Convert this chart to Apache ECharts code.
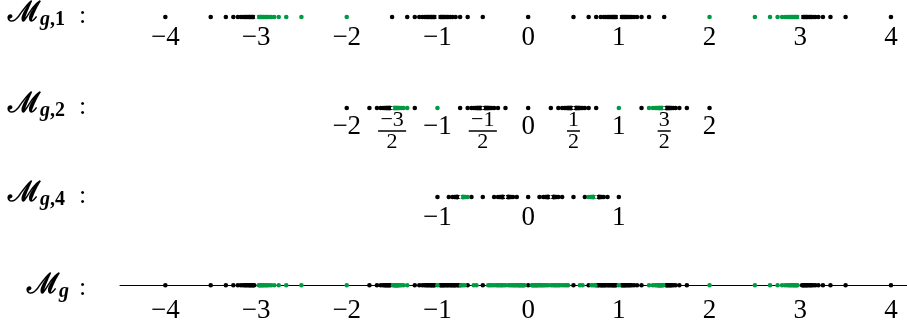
<!DOCTYPE html>
<html>
<head>
<meta charset="utf-8">
<script src="https://cdn.jsdelivr.net/npm/echarts@6/dist/echarts.min.js"></script>
<style>
  html, body { margin: 0; padding: 0; background: #fff; }
  #chart { width: 907px; height: 324px; }
</style>
</head>
<body>
<div id="chart"></div>
<script>
// M_{g,1}
const r1Black = [-4, -3.5, -3.333, -3.25, -3.2, -3.167, -3.143, -3.125, -3.111, -3.1, -3.083, -3.071, -3.063, -3.05, -3.04, -3.03,
  -1.5, -1.333, -1.25, -1.2, -1.167, -1.143, -1.125, -1.111, -1.1, -1.083, -1.071, -1.063, -1.05, -1.04, -1.03,
  -0.97, -0.96, -0.95, -0.938, -0.929, -0.917, -0.9, -0.889, -0.875, -0.857, -0.833, -0.8, -0.75, -0.667, -0.5,
  0,
  0.5, 0.667, 0.75, 0.8, 0.833, 0.857, 0.875, 0.889, 0.9, 0.917, 0.929, 0.938, 0.95, 0.96, 0.97,
  1.03, 1.04, 1.05, 1.063, 1.071, 1.083, 1.1, 1.111, 1.125, 1.143, 1.167, 1.2, 1.25, 1.333, 1.5,
  3.03, 3.04, 3.05, 3.063, 3.071, 3.083, 3.1, 3.111, 3.125, 3.143, 3.167, 3.2, 3.25, 3.333, 3.5, 4];
const r1Green = [-2.97, -2.96, -2.95, -2.938, -2.929, -2.917, -2.9, -2.889, -2.875, -2.857, -2.833, -2.8, -2.75, -2.667, -2.5, -2,
  2, 2.5, 2.667, 2.75, 2.8, 2.833, 2.857, 2.875, 2.889, 2.9, 2.917, 2.929, 2.938, 2.95, 2.96, 2.97];
const r1Open = [-3, -1, 1, 3];

// M_{g,2}
const r2Black = [-2, -1.75, -1.667, -1.625, -1.6, -1.583, -1.571, -1.563, -1.556, -1.55, -1.542, -1.536, -1.53, -1.525, -1.52,
  -1.25,
  -0.75, -0.667, -0.625, -0.6, -0.583, -0.571, -0.563, -0.556, -0.55, -0.542, -0.536, -0.53, -0.525, -0.52,
  -0.48, -0.475, -0.47, -0.464, -0.458, -0.45, -0.444, -0.438, -0.429, -0.417, -0.4, -0.375, -0.333, -0.25,
  0,
  0.25, 0.333, 0.375, 0.4, 0.417, 0.429, 0.438, 0.444, 0.45, 0.458, 0.464, 0.47, 0.475, 0.48,
  0.52, 0.525, 0.53, 0.536, 0.542, 0.55, 0.556, 0.563, 0.571, 0.583, 0.6, 0.625, 0.667, 0.75,
  1.25,
  1.52, 1.525, 1.53, 1.536, 1.542, 1.55, 1.556, 1.563, 1.571, 1.583, 1.6, 1.625, 1.667, 1.75, 2];
const r2Green = [-1.48, -1.475, -1.47, -1.464, -1.458, -1.45, -1.444, -1.438, -1.429, -1.417, -1.4, -1.375, -1.333, -1,
  1, 1.333, 1.375, 1.4, 1.417, 1.429, 1.438, 1.444, 1.45, 1.458, 1.464, 1.47, 1.475, 1.48];
const r2Open = [-1.5, -0.5, 0.5, 1.5];

// M_{g,4}
const r3Black = [-1, -0.875, -0.833, -0.813, -0.8, -0.792, -0.786, -0.781, -0.778, -0.775, -0.625, -0.5,
  -0.375, -0.333, -0.313, -0.3, -0.292, -0.286, -0.281, -0.278, -0.275,
  -0.225, -0.222, -0.219, -0.214, -0.208, -0.2, -0.188, -0.167, -0.125,
  0,
  0.125, 0.167, 0.188, 0.2, 0.208, 0.214, 0.219, 0.222, 0.225,
  0.275, 0.278, 0.281, 0.286, 0.292, 0.3, 0.313, 0.333, 0.375,
  0.5, 0.625, 0.775, 0.778, 0.781, 0.786, 0.792, 0.8, 0.813, 0.833, 0.875, 1];
const r3Green = [-0.725, -0.722, -0.719, -0.714, -0.708, -0.7, -0.688, -0.667,
  0.667, 0.688, 0.7, 0.708, 0.714, 0.719, 0.722, 0.725];
const r3Open = [-0.75, -0.25, 0.25, 0.75];

// M_g
const r4Black = [-4, -3.5, -3.333, -3.25, -3.2, -3.167, -3.143, -3.125, -3.111, -3.1, -3.083, -3.071, -3.063, -3.05, -3.04, -3.03, -3.02,
  -1.75, -1.667, -1.625, -1.6, -1.583, -1.571, -1.563, -1.55, -1.54, -1.53, -1.52,
  -1.25, -1.2, -1.167, -1.143, -1.125, -1.111, -1.1, -1.083, -1.071, -1.063, -1.05, -1.04, -1.03,
  -0.97, -0.96, -0.95, -0.938, -0.929, -0.917, -0.9, -0.889, -0.875, -0.857, -0.845, -0.833, -0.82, -0.81, -0.8, -0.78, -0.77, -0.75, -0.667, -0.5,
  0,
  0.5, 0.667, 0.75, 0.77, 0.78, 0.8, 0.81, 0.82, 0.833, 0.845, 0.857, 0.875, 0.889, 0.9, 0.917, 0.929, 0.938, 0.95, 0.96, 0.97,
  1.03, 1.04, 1.05, 1.063, 1.071, 1.083, 1.1, 1.111, 1.125, 1.143, 1.167, 1.2, 1.25,
  1.52, 1.53, 1.54, 1.55, 1.563, 1.571, 1.583, 1.6, 1.625, 1.667, 1.75,
  3.02, 3.03, 3.04, 3.05, 3.063, 3.071, 3.083, 3.1, 3.111, 3.125, 3.143, 3.167, 3.2, 3.25, 3.333, 3.5, 4];
const r4Green = [-2.97, -2.96, -2.95, -2.938, -2.929, -2.917, -2.9, -2.889, -2.875, -2.857, -2.833, -2.8, -2.75, -2.667, -2.5, -2,
  -1.49, -1.48, -1.47, -1.464, -1.458, -1.45, -1.444, -1.438, -1.429, -1.417, -1.4, -1.375, -1.333, -1,
  -0.74, -0.72, -0.7, -0.6, -0.57,
  -0.44, -0.42, -0.4, -0.375, -0.35, -0.333, -0.32, -0.3, -0.29, -0.27, -0.25, -0.22, -0.2, -0.18, -0.167, -0.15, -0.14, -0.125,
  -0.11, -0.1, -0.09, -0.08, -0.07, -0.06, -0.05, -0.04,
  0.04, 0.05, 0.06, 0.07, 0.08, 0.09, 0.1, 0.11, 0.125, 0.14, 0.15, 0.167, 0.18, 0.2, 0.22, 0.25,
  0.27, 0.29, 0.3, 0.32, 0.333, 0.35, 0.375, 0.4, 0.42, 0.44,
  0.57, 0.6, 0.7, 0.72, 0.74, 1,
  1.333, 1.375, 1.4, 1.417, 1.429, 1.438, 1.444, 1.45, 1.458, 1.464, 1.47, 1.48, 1.49,
  2, 2.5, 2.667, 2.75, 2.8, 2.833, 2.857, 2.875, 2.889, 2.9, 2.917, 2.929, 2.938, 2.95, 2.96, 2.97];

// tick labels
const ticksWide = [-4, -3, -2, -1, 0, 1, 2, 3, 4];
const ticksWideText = ['−4', '−3', '−2', '−1', '0', '1', '2', '3', '4'];
const ticksHalf = [-2, -1.5, -1, -0.5, 0, 0.5, 1, 1.5, 2];
const ticksHalfText = ['−2', '−3/2', '−1', '−1/2', '0', '1/2', '1', '3/2', '2'];
const ticksUnit = [-1, 0, 1];
const ticksUnitText = ['−1', '0', '1'];

const rowNames = [['g', ',1'], ['g', ',2'], ['g', ',4'], ['g', '']];

const GREEN = '#009a44';
const SERIF = 'Liberation Serif';
const rowY = [17, 108, 197, 289];

const chart = echarts.init(document.getElementById('chart'));

const rows = [
  { black: r1Black, green: r1Green, open: r1Open, ticks: ticksWide, text: ticksWideText },
  { black: r2Black, green: r2Green, open: r2Open, ticks: ticksHalf, text: ticksHalfText },
  { black: r3Black, green: r3Green, open: r3Open, ticks: ticksUnit, text: ticksUnitText },
  { black: r4Black, green: r4Green, open: [], ticks: ticksWide, text: ticksWideText }
];

const labelRich = {
  int: { fontFamily: SERIF, fontSize: 27, lineHeight: 28, color: '#000' },
  intF: { fontFamily: SERIF, fontSize: 27, lineHeight: 28, color: '#000', padding: [0, 0, 8, 0] },
  num: { fontFamily: SERIF, fontSize: 22, lineHeight: 18, color: '#000', align: 'center' },
  barW: { width: 28, height: 0, borderColor: '#000', borderWidth: 1, lineHeight: 4 },
  barN: { width: 13, height: 0, borderColor: '#000', borderWidth: 1, lineHeight: 4 },
  den: { fontFamily: SERIF, fontSize: 22, lineHeight: 18, color: '#000', align: 'center' }
};

const grid = [], xAxis = [], yAxis = [], series = [], title = [];
rows.forEach((r, i) => {
  grid.push({ left: 120, right: 0, top: rowY[i] - 5, height: 10 });
  xAxis.push({
    type: 'value', gridIndex: i, min: -4.5, max: 4.177,
    axisLine: { show: i === 3, onZero: true, lineStyle: { color: '#000', width: 1 } },
    axisTick: { show: false },
    splitLine: { show: false },
    axisLabel: {
      customValues: r.ticks,
      margin: i === 3 ? 24 : (i === 1 ? 18 : 16),
      verticalAlign: 'middle',
      hideOverlap: false,
      formatter: function (v) {
        const s = r.text[r.ticks.indexOf(v)];
        if (s === undefined) return '';
        if (s.indexOf('/') >= 0) {
          const p = s.split('/');
          const bar = p[0].length > 1 ? 'barW' : 'barN';
          return '{num|' + p[0] + '}\n{' + bar + '|}\n{den|' + p[1] + '}';
        }
        return i === 1 ? '{intF|' + s + '}' : '{int|' + s + '}';
      },
      rich: labelRich
    }
  });
  yAxis.push({ type: 'value', gridIndex: i, min: -1, max: 1, show: false });
  [[r.black, '#000', 4.6], [r.green, GREEN, 4.6], [r.open, '#fff', 2.4]].forEach(([vals, col, size]) => {
    series.push({
      type: 'scatter', xAxisIndex: i, yAxisIndex: i,
      symbol: 'circle', symbolSize: size, silent: true,
      itemStyle: { color: col, opacity: 1 },
      data: vals.map(v => [v, 0])
    });
  });
  title.push({
    left: i === 3 ? 27 : 8, top: rowY[i] - 17, padding: 0,
    text: '{m|ℳ}{g|' + rowNames[i][0] + '}{s|' + rowNames[i][1] + '}',
    textStyle: {
      rich: {
        m: { fontFamily: 'DejaVu Serif', fontSize: 28, lineHeight: 30, verticalAlign: 'top', color: '#000' },
        g: { fontFamily: SERIF, fontStyle: 'italic', fontSize: 20, lineHeight: 20, verticalAlign: 'bottom', color: '#000' },
        s: { fontFamily: SERIF, fontSize: 20, lineHeight: 20, verticalAlign: 'bottom', color: '#000' }
      }
    }
  });
  title.push({
    left: 79, top: rowY[i] - 14, padding: 0, text: ':',
    textStyle: { fontFamily: SERIF, fontSize: 26, fontWeight: 'normal', color: '#000' }
  });
});

chart.setOption({
  animation: false,
  backgroundColor: '#fff',
  title: title,
  grid: grid,
  xAxis: xAxis,
  yAxis: yAxis,
  series: series
});
</script>
</body>
</html>
